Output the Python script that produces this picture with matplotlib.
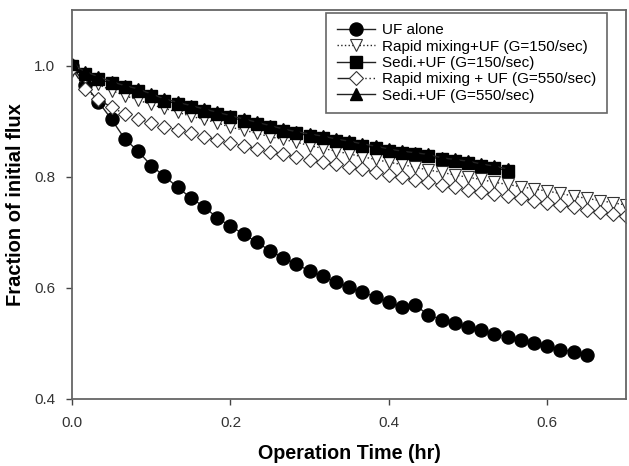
import numpy as np
import matplotlib
matplotlib.use("Agg")
import matplotlib.pyplot as plt

plt.rcParams["font.family"] = ["Liberation Sans", "DejaVu Sans"]

# sampling every minute, time in hours
t_uf = np.arange(40) / 60
t_sedi = np.arange(34) / 60
t_rapid = np.arange(44) / 60

uf_alone = [1.000, 0.965, 0.935, 0.903, 0.868, 0.846, 0.820, 0.801, 0.781, 0.762,
            0.746, 0.726, 0.711, 0.697, 0.682, 0.667, 0.654, 0.643, 0.630, 0.621,
            0.610, 0.601, 0.593, 0.583, 0.575, 0.566, 0.569, 0.551, 0.543, 0.536,
            0.530, 0.524, 0.517, 0.512, 0.507, 0.500, 0.496, 0.489, 0.485, 0.479]

rapid_150 = [0.990, 0.978, 0.966, 0.955, 0.946, 0.938, 0.930, 0.923, 0.916, 0.909,
             0.903, 0.897, 0.889, 0.884, 0.878, 0.872, 0.867, 0.862, 0.856, 0.851,
             0.846, 0.841, 0.836, 0.831, 0.826, 0.822, 0.817, 0.812, 0.808, 0.803,
             0.799, 0.795, 0.790, 0.786, 0.782, 0.778, 0.774, 0.770, 0.765, 0.761,
             0.757, 0.753, 0.749, 0.745]

sedi_150 = [1.000, 0.985, 0.976, 0.968, 0.961, 0.955, 0.946, 0.937, 0.931, 0.925,
            0.919, 0.913, 0.907, 0.901, 0.895, 0.889, 0.883, 0.878, 0.874, 0.870,
            0.865, 0.861, 0.856, 0.852, 0.847, 0.843, 0.840, 0.837, 0.831, 0.828,
            0.825, 0.820, 0.816, 0.811]

rapid_550 = [0.995, 0.958, 0.939, 0.925, 0.913, 0.904, 0.897, 0.890, 0.884, 0.878,
             0.872, 0.866, 0.861, 0.855, 0.850, 0.845, 0.840, 0.835, 0.830, 0.826,
             0.822, 0.817, 0.813, 0.808, 0.803, 0.799, 0.794, 0.790, 0.785, 0.781,
             0.777, 0.773, 0.769, 0.765, 0.761, 0.757, 0.753, 0.749, 0.745, 0.741,
             0.737, 0.733, 0.729, 0.725]

sedi_550 = [1.003, 0.989, 0.980, 0.971, 0.964, 0.958, 0.949, 0.940, 0.934, 0.928,
            0.922, 0.916, 0.910, 0.904, 0.898, 0.892, 0.886, 0.881, 0.877, 0.873,
            0.868, 0.864, 0.859, 0.855, 0.850, 0.846, 0.843, 0.840, 0.834, 0.831,
            0.828, 0.823, 0.819, 0.814]

labels = ["UF alone", "Rapid mixing+UF (G=150/sec)", "Sedi.+UF (G=150/sec)",
          "Rapid mixing + UF (G=550/sec)", "Sedi.+UF (G=550/sec)"]

fig = plt.figure(figsize=(6.29, 4.66), dpi=100)
ax = fig.add_axes([0.1145, 0.1438, 0.8815, 0.8347])

line_c = "#222222"
ax.plot(t_uf, uf_alone, "-o", color=line_c, lw=1, ms=9.4, mfc="black", mec="black",
        label=labels[0])
ax.plot(t_rapid, rapid_150, ":v", color=line_c, lw=1, ms=8.6, mfc="white", mec="#333333",
        mew=0.8, label=labels[1])
ax.plot(t_sedi, sedi_150, "-s", color=line_c, lw=1, ms=8.3, mfc="black", mec="black",
        label=labels[2])
ax.plot(t_rapid, rapid_550, marker="D", linestyle=(0, (9, 2, 1, 2, 1, 2, 1, 2, 1, 2, 1, 2, 1, 2)),
        color=line_c, lw=1, ms=6.8, mfc="white", mec="#333333", mew=0.8, label=labels[3])
ax.plot(t_sedi, sedi_550, "-^", color=line_c, lw=1, ms=8.6, mfc="black", mec="black",
        label=labels[4])

ax.set_xlim(0, 0.7)
ax.set_ylim(0.4, 1.1)
ax.set_xticks([0.0, 0.2, 0.4, 0.6])
ax.set_yticks([0.4, 0.6, 0.8, 1.0])
ax.set_xticklabels(["0.0", "0.2", "0.4", "0.6"])
ax.set_yticklabels(["0.4", "0.6", "0.8", "1.0"])

for s in ax.spines.values():
    s.set_color("#666666")
    s.set_linewidth(1.3)
ax.tick_params(direction="out", length=4, width=1, color="#444444",
               labelsize=11, labelcolor="#333333", pad=8)

ax.set_xlabel("Operation Time (hr)", fontsize=14.2, fontweight="bold", labelpad=10)
ax.set_ylabel("Fraction of initial flux", fontsize=14.5, fontweight="bold", labelpad=7)

leg = ax.legend(loc="upper right", bbox_to_anchor=(0.965, 0.993), fontsize=11,
                frameon=True, fancybox=False, framealpha=1, edgecolor="#666666",
                handlelength=2.5, handletextpad=0.45, labelspacing=0.15,
                borderpad=0.7, borderaxespad=0)
leg.get_frame().set_linewidth(1.2)

fig.savefig("out.png", dpi=100)
